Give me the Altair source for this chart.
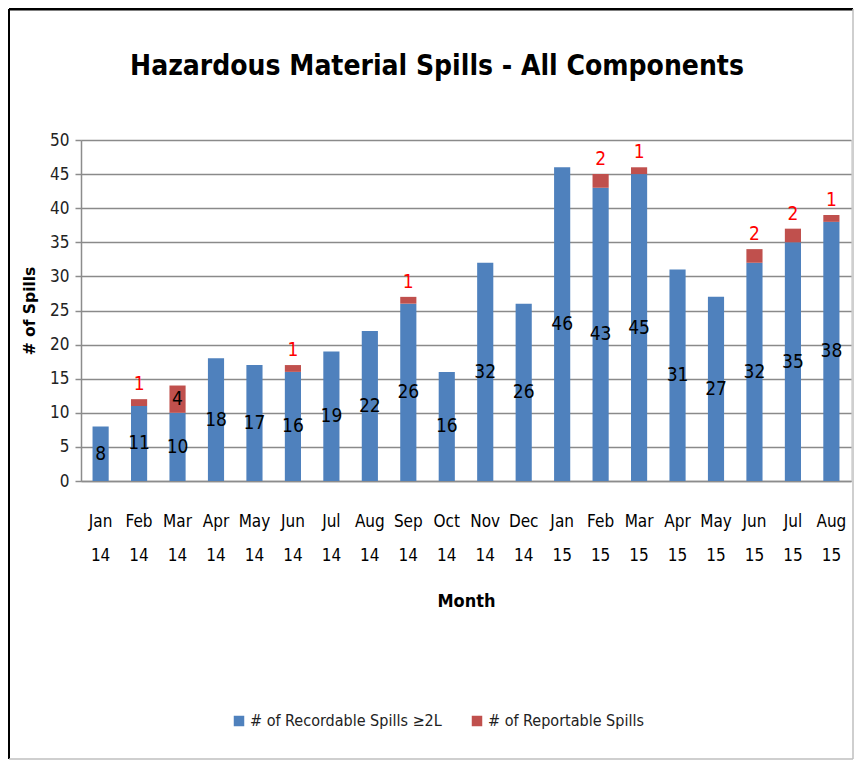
import altair as alt
import pandas as pd

months = ["Jan 14", "Feb 14", "Mar 14", "Apr 14", "May 14", "Jun 14", "Jul 14",
          "Aug 14", "Sep 14", "Oct 14", "Nov 14", "Dec 14", "Jan 15", "Feb 15",
          "Mar 15", "Apr 15", "May 15", "Jun 15", "Jul 15", "Aug 15"]
recordable = [8, 11, 10, 18, 17, 16, 19, 22, 26, 16, 32, 26, 46, 43, 45, 31, 27, 32, 35, 38]
reportable = [0, 1, 4, 0, 0, 1, 0, 0, 1, 0, 0, 0, 0, 2, 1, 0, 0, 2, 2, 1]
series_names = ["# of Recordable Spills \u22652L", "# of Reportable Spills"]
series_colors = ["#4F81BD", "#C0504D"]
y_ticks = [0, 5, 10, 15, 20, 25, 30, 35, 40, 45, 50]

FONT = "DejaVu Sans Condensed, Liberation Sans, sans-serif"

wide = pd.DataFrame({"Month": months, "Recordable": recordable, "Reportable": reportable})
rows = []
for m, a, b in zip(months, recordable, reportable):
    rows.append({"Month": m, "Series": series_names[0], "Value": a, "Idx": 0})
    rows.append({"Month": m, "Series": series_names[1], "Value": b, "Idx": 1})
long = pd.DataFrame(rows)

W, H = 770, 341

x_enc = alt.X("Month:N", sort=months, title="Month",
              scale=alt.Scale(paddingInner=0.58, paddingOuter=0.3),
              axis=alt.Axis(labelAngle=0, labelExpr="split(datum.label, ' ')",
                            labelLineHeight=34, labelFontSize=17, labelPadding=32,
                            labelColor="#000000", labelFont=FONT, ticks=False,
                            domainColor="#8c8c8c", domainWidth=1.5,
                            titleFont=FONT, titleFontSize=18, titleFontWeight="bold",
                            titlePadding=29, titleColor="#000000"))

y_axis = alt.Axis(values=y_ticks, labelFontSize=17, labelFont=FONT,
                  labelColor="#222222", labelPadding=6, tickSize=6,
                  tickColor="#8c8c8c", tickWidth=1.5,
                  domainColor="#8c8c8c", domainWidth=1.5,
                  gridColor="#8a8a8a", gridWidth=1.5,
                  titleFont="DejaVu Sans", titleFontSize=15.5,
                  titleFontWeight="bold", titleColor="#000000",
                  titlePadding=12)
y_scale = alt.Scale(domain=[0, 50], nice=False)


def yenc(field, **kw):
    return alt.Y(field, title="# of Spills", scale=y_scale, axis=y_axis, **kw)


bars = alt.Chart(long).mark_bar().encode(
    x=x_enc,
    y=yenc("Value:Q", stack="zero"),
    color=alt.Color("Series:N", scale=alt.Scale(domain=series_names, range=series_colors),
                    legend=alt.Legend(title=None, orient="none", legendX=150, legendY=573,
                                      direction="horizontal", symbolType="square",
                                      symbolSize=110, symbolStrokeWidth=0,
                                      labelFont=FONT, labelFontSize=16, labelLimit=400,
                                      labelColor="#222222", columnPadding=27,
                                      symbolOffset=0, labelOffset=3)),
    order=alt.Order("Idx:Q"),
)

rec_labels = alt.Chart(wide).transform_calculate(
    mid="datum.Recordable / 2"
).mark_text(font=FONT, fontSize=19, color="#000000", baseline="middle").encode(
    x=alt.X("Month:N", sort=months),
    y=yenc("mid:Q"),
    text="Recordable:Q",
)

rep_inside = alt.Chart(wide).transform_filter("datum.Reportable >= 3").transform_calculate(
    mid="datum.Recordable + datum.Reportable / 2"
).mark_text(font=FONT, fontSize=19, color="#000000", baseline="middle").encode(
    x=alt.X("Month:N", sort=months),
    y=yenc("mid:Q"),
    text="Reportable:Q",
)

rep_above = alt.Chart(wide).transform_filter(
    "datum.Reportable > 0 && datum.Reportable < 3"
).transform_calculate(
    top="datum.Recordable + datum.Reportable"
).mark_text(font=FONT, fontSize=19, color="#FF0000",
            baseline="bottom", dy=-5).encode(
    x=alt.X("Month:N", sort=months),
    y=yenc("top:Q"),
    text="Reportable:Q",
)

one = pd.DataFrame({"k": [0]})
frame_top = alt.Chart(one).mark_rule(color="#000000", strokeWidth=3).encode(
    x=alt.value(-72), x2=alt.value(772), y=alt.value(-131))
frame_left = alt.Chart(one).mark_rule(color="#000000", strokeWidth=2).encode(
    x=alt.value(-72), y=alt.value(-131), y2=alt.value(619))
frame_right = alt.Chart(one).mark_rule(color="#bfbfbf", strokeWidth=1.5).encode(
    x=alt.value(772), y=alt.value(-131), y2=alt.value(619))
frame_bottom = alt.Chart(one).mark_rule(color="#bfbfbf", strokeWidth=1.5).encode(
    x=alt.value(-72), x2=alt.value(772), y=alt.value(619))

chart = alt.layer(
    bars, rec_labels, rep_inside, rep_above,
    frame_top, frame_left, frame_right, frame_bottom
).properties(
    width=W, height=H,
    title=alt.TitleParams("Hazardous Material Spills - All Components",
                          font=FONT, fontSize=28, fontWeight="bold", color="#000000",
                          anchor="middle", dx=-29, offset=-73),
    padding={"left": 73, "top": 132, "right": 3, "bottom": 279},
    autosize="none",
).configure_view(stroke=None).configure(background="#ffffff")

chart.save("out.html", embed_options={"renderer": "svg", "actions": False})
